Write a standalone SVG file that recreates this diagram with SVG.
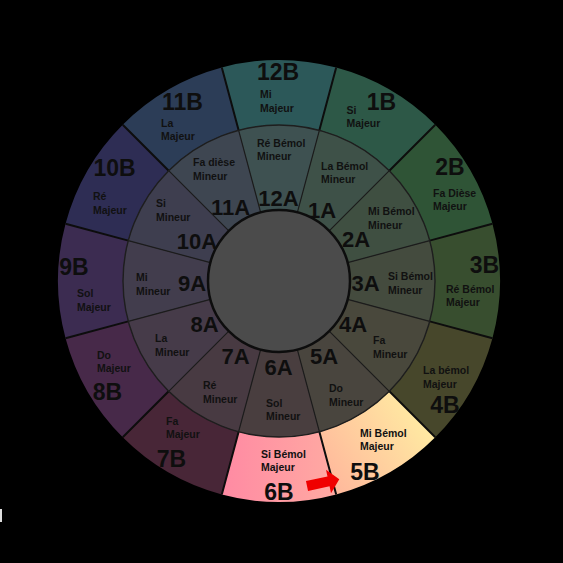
<svg xmlns="http://www.w3.org/2000/svg" width="563" height="563" viewBox="0 0 563 563">
<defs>
<linearGradient id="g5" gradientUnits="userSpaceOnUse" x1="330" y1="485" x2="430" y2="420"><stop offset="0" stop-color="#ffb89c"/><stop offset="1" stop-color="#ffeca2"/></linearGradient>
<linearGradient id="g6" gradientUnits="userSpaceOnUse" x1="222" y1="470" x2="336" y2="470"><stop offset="0" stop-color="#ff8aa3"/><stop offset="1" stop-color="#ffaaa2"/></linearGradient>
</defs>
<style>
.big{font-family:"Liberation Sans",Arial,sans-serif;font-weight:bold;font-size:23px;fill:#0e0e0e;text-anchor:middle}
.mid{font-family:"Liberation Sans",Arial,sans-serif;font-weight:bold;font-size:22px;fill:#0e0e0e;text-anchor:middle}
.sm{font-family:"Liberation Sans",Arial,sans-serif;font-weight:bold;font-size:10.5px;fill:#111}
.ol{stroke:#0d0d0d;stroke-width:2;fill:none}
.il{stroke:#1c1c1c;stroke-width:1.2;fill:none}
</style>
<rect width="563" height="563" fill="#000"/>
<rect x="0" y="509" width="2" height="13" fill="#ddd"/>

<g id="ring-outer">
<g id="n12B"><path d="M221.81,67.54 A221,221 0 0 1 336.19,67.54 L319.37,130.32 A156,156 0 0 0 238.63,130.32 Z" fill="#2c5859"/><text class="big" x="278" y="80">12B</text><text class="sm" x="260" y="98">Mi</text><text class="sm" x="260" y="112">Majeur</text></g>
<g id="n1B"><path d="M336.19,67.54 A221,221 0 0 1 435.27,124.73 L389.31,170.69 A156,156 0 0 0 319.37,130.32 Z" fill="#2d5847"/><text class="big" x="381.5" y="110">1B</text><text class="sm" x="346.5" y="114">Si</text><text class="sm" x="346.5" y="127">Majeur</text></g>
<g id="n2B"><path d="M435.27,124.73 A221,221 0 0 1 492.46,223.81 L429.68,240.63 A156,156 0 0 0 389.31,170.69 Z" fill="#2f5436"/><text class="big" x="450" y="175">2B</text><text class="sm" x="433" y="197">Fa Dièse</text><text class="sm" x="433" y="210">Majeur</text></g>
<g id="n3B"><path d="M492.46,223.81 A221,221 0 0 1 492.46,338.19 L429.68,321.37 A156,156 0 0 0 429.68,240.63 Z" fill="#384e2f"/><text class="big" x="484.5" y="273">3B</text><text class="sm" x="446" y="293">Ré Bémol</text><text class="sm" x="446" y="306">Majeur</text></g>
<g id="n4B"><path d="M492.46,338.19 A221,221 0 0 1 435.27,437.27 L389.31,391.31 A156,156 0 0 0 429.68,321.37 Z" fill="#47472b"/><text class="big" x="445" y="413">4B</text><text class="sm" x="423" y="374">La bémol</text><text class="sm" x="423" y="388">Majeur</text></g>
<g id="n5B"><path d="M435.27,437.27 A221,221 0 0 1 336.19,494.46 L319.37,431.68 A156,156 0 0 0 389.31,391.31 Z" fill="url(#g5)"/><text class="big" x="365" y="480">5B</text><text class="sm" x="360" y="437">Mi Bémol</text><text class="sm" x="360" y="450">Majeur</text></g>
<g id="n6B"><path d="M336.19,494.46 A221,221 0 0 1 221.81,494.46 L238.63,431.68 A156,156 0 0 0 319.37,431.68 Z" fill="url(#g6)"/><text class="big" x="279" y="500">6B</text><text class="sm" x="261" y="458">Si Bémol</text><text class="sm" x="261" y="471">Majeur</text></g>
<g id="n7B"><path d="M221.81,494.46 A221,221 0 0 1 122.73,437.27 L168.69,391.31 A156,156 0 0 0 238.63,431.68 Z" fill="#482637"/><text class="big" x="171.5" y="467">7B</text><text class="sm" x="166" y="425">Fa</text><text class="sm" x="166" y="438">Majeur</text></g>
<g id="n8B"><path d="M122.73,437.27 A221,221 0 0 1 65.54,338.19 L128.32,321.37 A156,156 0 0 0 168.69,391.31 Z" fill="#472949"/><text class="big" x="107.5" y="400">8B</text><text class="sm" x="97" y="359">Do</text><text class="sm" x="97" y="372">Majeur</text></g>
<g id="n9B"><path d="M65.54,338.19 A221,221 0 0 1 65.54,223.81 L128.32,240.63 A156,156 0 0 0 128.32,321.37 Z" fill="#3c2c51"/><text class="big" x="74" y="275">9B</text><text class="sm" x="77" y="297">Sol</text><text class="sm" x="77" y="311">Majeur</text></g>
<g id="n10B"><path d="M65.54,223.81 A221,221 0 0 1 122.73,124.73 L168.69,170.69 A156,156 0 0 0 128.32,240.63 Z" fill="#2e2d54"/><text class="big" x="114.5" y="176">10B</text><text class="sm" x="93" y="200">Ré</text><text class="sm" x="93" y="214">Majeur</text></g>
<g id="n11B"><path d="M122.73,124.73 A221,221 0 0 1 221.81,67.54 L238.63,130.32 A156,156 0 0 0 168.69,170.69 Z" fill="#2c3d57"/><text class="big" x="182.5" y="110">11B</text><text class="sm" x="161" y="127">La</text><text class="sm" x="161" y="140">Majeur</text></g>
</g>

<g id="ring-middle">
<g id="n12A"><path d="M238.63,130.32 A156,156 0 0 1 319.37,130.32 L297.37,212.42 A71,71 0 0 0 260.63,212.42 Z" fill="#3e5151"/><text class="mid" x="278.5" y="206">12A</text><text class="sm" x="257" y="146.5">Ré Bémol</text><text class="sm" x="257" y="160">Mineur</text></g>
<g id="n1A"><path d="M319.37,130.32 A156,156 0 0 1 389.31,170.69 L329.20,230.80 A71,71 0 0 0 297.37,212.42 Z" fill="#3e5148"/><text class="mid" x="322" y="218">1A</text><text class="sm" x="321" y="170">La Bémol</text><text class="sm" x="321" y="183">Mineur</text></g>
<g id="n2A"><path d="M389.31,170.69 A156,156 0 0 1 429.68,240.63 L347.58,262.63 A71,71 0 0 0 329.20,230.80 Z" fill="#3f4f41"/><text class="mid" x="356" y="247">2A</text><text class="sm" x="368" y="215">Mi Bémol</text><text class="sm" x="368" y="229">Mineur</text></g>
<g id="n3A"><path d="M429.68,240.63 A156,156 0 0 1 429.68,321.37 L347.58,299.37 A71,71 0 0 0 347.58,262.63 Z" fill="#444b3e"/><text class="mid" x="365.5" y="291">3A</text><text class="sm" x="388" y="280">Si Bémol</text><text class="sm" x="388" y="294">Mineur</text></g>
<g id="n4A"><path d="M429.68,321.37 A156,156 0 0 1 389.31,391.31 L329.20,331.20 A71,71 0 0 0 347.58,299.37 Z" fill="#49483c"/><text class="mid" x="353" y="332">4A</text><text class="sm" x="373" y="344">Fa</text><text class="sm" x="373" y="358">Mineur</text></g>
<g id="n5A"><path d="M389.31,391.31 A156,156 0 0 1 319.37,431.68 L297.37,349.58 A71,71 0 0 0 329.20,331.20 Z" fill="#49453e"/><text class="mid" x="324" y="364">5A</text><text class="sm" x="329" y="392">Do</text><text class="sm" x="329" y="406">Mineur</text></g>
<g id="n6A"><path d="M319.37,431.68 A156,156 0 0 1 238.63,431.68 L260.63,349.58 A71,71 0 0 0 297.37,349.58 Z" fill="#493e3f"/><text class="mid" x="278.5" y="375">6A</text><text class="sm" x="266" y="407">Sol</text><text class="sm" x="266" y="420">Mineur</text></g>
<g id="n7A"><path d="M238.63,431.68 A156,156 0 0 1 168.69,391.31 L228.80,331.20 A71,71 0 0 0 260.63,349.58 Z" fill="#483a42"/><text class="mid" x="235.5" y="364">7A</text><text class="sm" x="203" y="389">Ré</text><text class="sm" x="203" y="403">Mineur</text></g>
<g id="n8A"><path d="M168.69,391.31 A156,156 0 0 1 128.32,321.37 L210.42,299.37 A71,71 0 0 0 228.80,331.20 Z" fill="#463b49"/><text class="mid" x="204.5" y="332">8A</text><text class="sm" x="155" y="342">La</text><text class="sm" x="155" y="356">Mineur</text></g>
<g id="n9A"><path d="M128.32,321.37 A156,156 0 0 1 128.32,240.63 L210.42,262.63 A71,71 0 0 0 210.42,299.37 Z" fill="#423d4d"/><text class="mid" x="192" y="291">9A</text><text class="sm" x="136" y="281">Mi</text><text class="sm" x="136" y="295">Mineur</text></g>
<g id="n10A"><path d="M128.32,240.63 A156,156 0 0 1 168.69,170.69 L228.80,230.80 A71,71 0 0 0 210.42,262.63 Z" fill="#3e3e4f"/><text class="mid" x="197" y="249">10A</text><text class="sm" x="156" y="207">Si</text><text class="sm" x="156" y="221">Mineur</text></g>
<g id="n11A"><path d="M168.69,170.69 A156,156 0 0 1 238.63,130.32 L260.63,212.42 A71,71 0 0 0 228.80,230.80 Z" fill="#3e4651"/><text class="mid" x="230.5" y="215">11A</text><text class="sm" x="193" y="166">Fa dièse</text><text class="sm" x="193" y="180">Mineur</text></g>
</g>

<g id="connectors">
<path class="ol" d="M336.19,67.54 L319.37,130.32 M435.27,124.73 L389.31,170.69 M492.46,223.81 L429.68,240.63 M492.46,338.19 L429.68,321.37 M435.27,437.27 L389.31,391.31 M336.19,494.46 L319.37,431.68 M221.81,494.46 L238.63,431.68 M122.73,437.27 L168.69,391.31 M65.54,338.19 L128.32,321.37 M65.54,223.81 L128.32,240.63 M122.73,124.73 L168.69,170.69 M221.81,67.54 L238.63,130.32"/>
<path class="il" d="M319.37,130.32 L297.37,212.42 M389.31,170.69 L329.20,230.80 M429.68,240.63 L347.58,262.63 M429.68,321.37 L347.58,299.37 M389.31,391.31 L329.20,331.20 M319.37,431.68 L297.37,349.58 M238.63,431.68 L260.63,349.58 M168.69,391.31 L228.80,331.20 M128.32,321.37 L210.42,299.37 M128.32,240.63 L210.42,262.63 M168.69,170.69 L228.80,230.80 M238.63,130.32 L260.63,212.42"/>
<circle cx="279" cy="281" r="156" fill="none" stroke="#1e1e1e" stroke-width="1.4"/>
</g>

<g id="center"><circle cx="279" cy="281" r="71" fill="#4b4b4b" stroke="#0d0d0d" stroke-width="2.5"/></g>

<g id="arrow"><polygon transform="translate(307,486) rotate(-12)" points="0,-5 22,-5 22,-12 33,0 22,12 22,5 0,5" fill="#f00000"/></g>
</svg>
